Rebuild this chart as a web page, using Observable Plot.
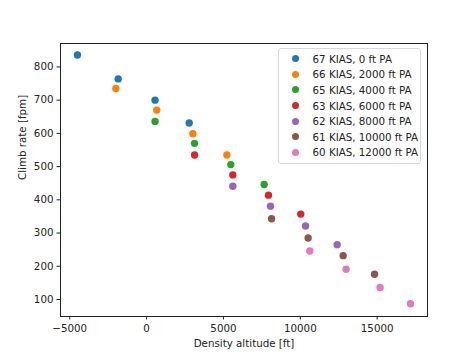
<!DOCTYPE html>
<html>
<head>
<meta charset="utf-8">
<script src="https://cdn.jsdelivr.net/npm/d3@7"></script>
<script src="https://cdn.jsdelivr.net/npm/@observablehq/plot@0.6"></script>
<style>
  html, body { margin: 0; padding: 0; background: #fff; }
  #wrap { position: relative; width: 474px; height: 355px; font-family: "DejaVu Sans", sans-serif; }
  #legend { position: absolute; left: 278px; top: 48px; width: 143px; box-sizing: border-box;
    border: 1px solid #d9d9d9; border-radius: 3px; background: rgba(255,255,255,0.8);
    padding: 2px 0 3px 0; font-size: 10.3px; color: #222; }
  #legend .row { display: flex; align-items: center; height: 15.6px; }
  #legend .sw { width: 7px; height: 7px; border-radius: 50%; margin-left: 12.5px; margin-right: 14px; }
</style>
</head>
<body>
<div id="wrap"><div id="legend"></div></div>
<script>
const seriesNames = ["67 KIAS, 0 ft PA", "66 KIAS, 2000 ft PA", "65 KIAS, 4000 ft PA", "63 KIAS, 6000 ft PA", "62 KIAS, 8000 ft PA", "61 KIAS, 10000 ft PA", "60 KIAS, 12000 ft PA"];
const colors = ["#1f77b4", "#ff7f0e", "#2ca02c", "#d62728", "#9467bd", "#8c564b", "#e377c2"];
const densityAlt = [
  [-4500, -1850, 550, 2770],
  [-2000, 660, 3010, 5220],
  [550, 3120, 5480, 7650],
  [3120, 5610, 7930, 10030],
  [5610, 8060, 10340, 12400],
  [8130, 10510, 12790, 14830],
  [10620, 12980, 15190, 17170]
];
const climbRate = [
  [836, 764, 700, 631],
  [735, 670, 599, 535],
  [636, 570, 506, 446],
  [535, 475, 414, 357],
  [441, 381, 321, 265],
  [343, 285, 232, 176],
  [246, 191, 136, 87]
];
const xTicks = [-5000, 0, 5000, 10000, 15000];
const yTicks = [100, 200, 300, 400, 500, 600, 700, 800];

const data = [];
seriesNames.forEach((s, i) => densityAlt[i].forEach((x, j) => data.push({series: s, x, y: climbRate[i][j]})));

const fmt = d3.format("d");
const chart = Plot.plot({
  width: 474, height: 355,
  marginLeft: 60, marginRight: 47, marginTop: 43, marginBottom: 39,
  style: {fontFamily: "DejaVu Sans, sans-serif", fontSize: "10.3px", color: "#222", background: "white"},
  x: {domain: [-5602, 18276], label: null},
  y: {domain: [48.8, 870.5], label: null},
  color: {domain: seriesNames, range: colors},
  marks: [
    Plot.axisX({ticks: xTicks, tickFormat: fmt, tickSize: 3.5, tickPadding: 5, label: null}),
    Plot.axisY({ticks: yTicks, tickFormat: fmt, tickSize: 3.5, tickPadding: 3.5, label: null}),
    Plot.dot(data, {x: "x", y: "y", fill: "series", r: 3.7}),
    Plot.frame({stroke: "#222", strokeWidth: 1}),
    Plot.text(["Density altitude [ft]"], {frameAnchor: "bottom", dy: 30, fontSize: 10.3, fill: "#222"}),
    Plot.text(["Climb rate [fpm]"], {frameAnchor: "left", dx: -38, rotate: -90, fontSize: 10.3, fill: "#222"})
  ]
});
document.getElementById("wrap").prepend(chart);
chart.style.position = "absolute"; chart.style.left = "0"; chart.style.top = "0";

const leg = document.getElementById("legend");
seriesNames.forEach((s, i) => {
  const row = document.createElement("div");
  row.className = "row";
  const sw = document.createElement("span");
  sw.className = "sw"; sw.style.background = colors[i];
  const t = document.createElement("span");
  t.textContent = s;
  row.append(sw, t);
  leg.append(row);
});
</script>
</body>
</html>
